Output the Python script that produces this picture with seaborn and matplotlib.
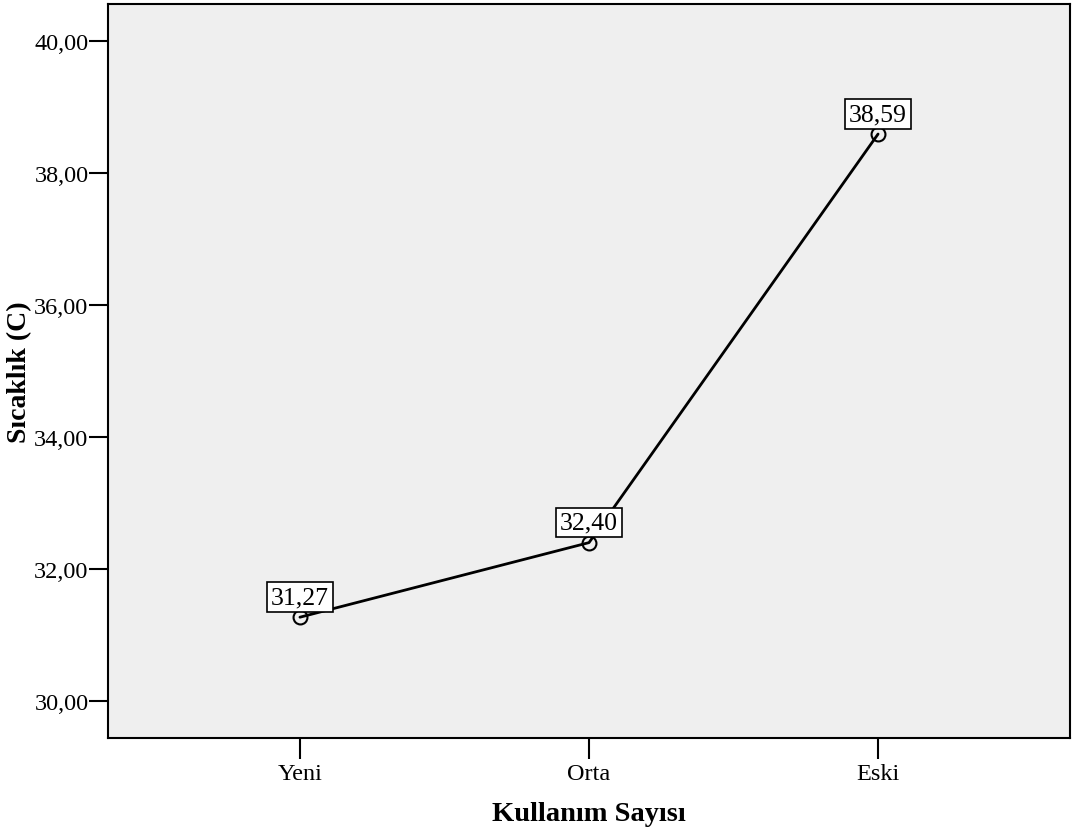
import matplotlib
matplotlib.use("Agg")
import matplotlib.pyplot as plt
import seaborn as sns
import pandas as pd

categories = ["Yeni", "Orta", "Eski"]
values = [31.27, 32.40, 38.59]
value_labels = ["31,27", "32,40", "38,59"]
y_ticks = [30, 32, 34, 36, 38, 40]
y_tick_labels = ["30,00", "32,00", "34,00", "36,00", "38,00", "40,00"]

sns.set_theme(style="white")
plt.rcParams['font.family'] = ['Liberation Serif', 'DejaVu Serif']
plt.rcParams['text.color'] = 'black'
plt.rcParams['axes.labelcolor'] = 'black'
plt.rcParams['xtick.color'] = 'black'
plt.rcParams['ytick.color'] = 'black'

fig = plt.figure(figsize=(10.72, 8.29), dpi=100)
ax = fig.add_axes([108/1072, 1-739/829, (1070-108)/1072, (739-5)/829])
ax.set_facecolor("#efefef")

df = pd.DataFrame({"Kullanım Sayısı": categories, "Sıcaklık (C)": values})
sns.lineplot(data=df, x="Kullanım Sayısı", y="Sıcaklık (C)", ax=ax, color="black",
             linewidth=2.0, marker="o", markersize=10, markerfacecolor="none",
             markeredgecolor="black", markeredgewidth=1.5, sort=False)

for i, (v, lab) in enumerate(zip(values, value_labels)):
    ax.annotate(lab, (i, v), xytext=(0, 6.5), textcoords="offset points",
                ha="center", va="bottom", fontsize=18.5, color="black",
                bbox=dict(boxstyle="square,pad=0.15", fc="white", ec="black", lw=1.2))

ax.set_xlim(-0.664, 2.664)
ax.set_ylim(29.44, 40.56)
ax.set_yticks(y_ticks)
ax.set_yticklabels(y_tick_labels)
ax.tick_params(axis="both", labelsize=17.5, labelcolor="black", direction="out",
               width=1.5, left=True, bottom=True)
ax.tick_params(axis="y", length=14, pad=0)
ax.tick_params(axis="x", length=15, pad=3)
for s in ax.spines.values():
    s.set_color("black")
    s.set_linewidth(1.5)
ax.set_xlabel("Kullanım Sayısı", fontsize=20.5, fontweight="bold", labelpad=12, color="black")
ax.set_ylabel("Sıcaklık (C)", fontsize=20, fontweight="bold", color="black")
ax.yaxis.set_label_coords(-0.079, 0.5)

fig.savefig("out.png", dpi=100)
